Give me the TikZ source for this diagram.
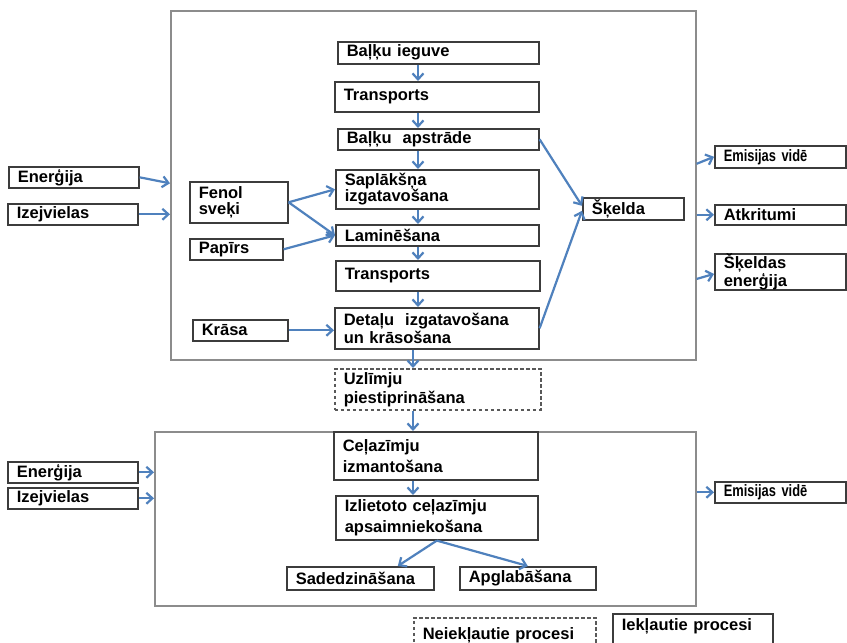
\documentclass[tikz,border=0pt]{standalone}
\usepackage{fontspec}
\setmainfont{Liberation Sans}
\newfontfamily\condfont[FakeStretch=0.78,UprightFont={* Bold}]{Liberation Sans}
\usetikzlibrary{arrows.meta}
\definecolor{arrowblue}{HTML}{4F81BD}
\definecolor{boxline}{HTML}{3C3C3C}
\definecolor{frameline}{HTML}{8C8C8C}
\begin{document}
\begin{tikzpicture}[x=1pt,y=-1pt,
  box/.style={draw=boxline, line width=1.6pt, fill=white, anchor=north west,
    inner xsep=9pt, inner ysep=0pt, align=left,
    font=\bfseries\fontsize{16.5}{17.5}\selectfont},
  lsp/.style={font=\bfseries\fontsize{16.5}{#1}\selectfont},
  dbox/.style={box, dash pattern=on 3.5pt off 2.5pt, draw=boxline!85},
  frame/.style={draw=frameline, line width=1.6pt, anchor=north west, inner sep=0pt},
  arr/.style={draw=arrowblue, line width=2.2pt, -{Straight Barb[length=6pt,width=11pt]}},
  ]
\fill[white] (0,0) rectangle (847,643);
\useasboundingbox (0,0) rectangle (847,643);

% frames
\node[frame, minimum width=525, minimum height=349] (ftop) at (170,10) {};
\node[frame, minimum width=541, minimum height=174] (fbot) at (154,431) {};

% column coordinates
\coordinate (cx) at (418,0);
\coordinate (cy) at (413,0);

% top chain
\node[box, minimum width=201, minimum height=22, text width=183] (b1) at (337,41) {Baļķu ieguve};
\node[box, minimum width=204, minimum height=30, text width=186] (t1) at (334,81) {Transports};
\node[box, minimum width=201, minimum height=21, text width=183] (b2) at (337,128) {Baļķu\ \ apstrāde};
\node[box, lsp=16, minimum width=203, minimum height=39, text width=185] (sap) at (335,169) {Saplākšņa\\izgatavošana};
\node[box, minimum width=203, minimum height=21, text width=185] (lam) at (335,224) {Laminēšana};
\node[box, minimum width=204, minimum height=30, text width=186] (t2) at (335,260) {Transports};
\node[box, minimum width=204, minimum height=41, text width=186] (det) at (334,307) {Detaļu\ \ izgatavošana\\un krāsošana};

% side inputs
\node[box, lsp=16, minimum width=98, minimum height=41, text width=80] (fen) at (189,181) {Fenol\\sveķi};
\node[box, minimum width=93, minimum height=21, text width=75] (pap) at (189,238) {Papīrs};
\node[box, minimum width=95, minimum height=21, text width=77] (kra) at (192,319) {Krāsa};
\node[box, minimum width=101, minimum height=22, text width=83] (ske) at (582,197) {Šķelda};

% left / right of top frame
\node[box, minimum width=130, minimum height=21, text width=112] (en1) at (8,166) {Enerģija};
\node[box, minimum width=130, minimum height=21, text width=112] (iz1) at (7,203) {Izejvielas};
\node[box, minimum width=131, minimum height=22, text width=113] (em1) at (714,145) {{\condfont\mdseries Emisijas vidē}};
\node[box, minimum width=131, minimum height=20, text width=113] (atk) at (714,204) {Atkritumi};
\node[box, lsp=18, minimum width=131, minimum height=31, text width=113] (sen) at (714,253) {Šķeldas\\enerģija};

% middle and bottom chain
\node[dbox, lsp=19, minimum width=206, minimum height=41, text width=188] (uzl) at (334,368) {Uzlīmju\\piestiprināšana};
\node[box, lsp=21, minimum width=204, minimum height=48, text width=186] (cel) at (333,431) {Ceļazīmju\\izmantošana};
\node[box, lsp=21, minimum width=202, minimum height=44, text width=184] (izl) at (335,495) {Izlietoto ceļazīmju\\apsaimniekošana};
\node[box, minimum width=147, minimum height=23, text width=129] (sad) at (286,566) {Sadedzināšana};
\node[box, minimum width=136, minimum height=23, text width=118] (apg) at (459,566) {Apglabāšana};

% left / right of bottom frame
\node[box, minimum width=130, minimum height=21, text width=112] (en2) at (7,461) {Enerģija};
\node[box, minimum width=130, minimum height=21, text width=112] (iz2) at (7,487) {Izejvielas};
\node[box, minimum width=131, minimum height=21, text width=113] (em2) at (714,481) {{\condfont\mdseries Emisijas vidē}};

% legend
\node[dbox, minimum width=182, minimum height=35, text width=164] (nei) at (413,617) {Neiekļautie procesi};
\node[box, minimum width=160, minimum height=35, text width=142, text depth=13pt] (iek) at (612,613) {Iekļautie procesi};

% vertical arrows
\draw[arr] (b1.south -| cx) -- (t1.north -| cx);
\draw[arr] (t1.south -| cx) -- (b2.north -| cx);
\draw[arr] (b2.south -| cx) -- (sap.north -| cx);
\draw[arr] (sap.south -| cx) -- (lam.north -| cx);
\draw[arr] (lam.south -| cx) -- (t2.north -| cx);
\draw[arr] (t2.south -| cx) -- (det.north -| cx);
\draw[arr] (det.south -| cy) -- (uzl.north -| cy);
\draw[arr] (uzl.south -| cy) -- (cel.north -| cy);
\draw[arr] (cel.south -| cy) -- (izl.north -| cy);

% inputs into processes
\draw[arr] (fen.east) -- (sap.west);
\draw[arr] (fen.east) -- (lam.west);
\draw[arr] (pap.east) -- (lam.west);
\draw[arr] (kra.east) -- (kra.east -| det.west);

% to Skelda
\draw[arr] (b2.east) -- ([yshift=3pt]ske.west);
\draw[arr] (det.east) -- ([yshift=-2pt]ske.west);

% frame inputs / outputs (top)
\draw[arr] (en1.east) -- ([yshift=-6pt]en1.east -| ftop.west);
\draw[arr] (iz1.east) -- (iz1.east -| ftop.west);
\draw[arr] ([yshift=-7pt]em1.west -| ftop.east) -- (em1.west);
\draw[arr] (atk.west -| ftop.east) -- (atk.west);
\draw[arr] ([yshift=-7pt]sen.west -| ftop.east) -- ([yshift=-2pt]sen.west);

% frame inputs / outputs (bottom)
\draw[arr] (en2.east) -- (en2.east -| fbot.west);
\draw[arr] (iz2.east) -- (iz2.east -| fbot.west);
\draw[arr] (em2.west -| fbot.east) -- (em2.west);

% end of life split
\draw[arr] (izl.south) -- ([xshift=37.5pt]sad.north);
\draw[arr] (izl.south) -- (apg.north);
\end{tikzpicture}
\end{document}
